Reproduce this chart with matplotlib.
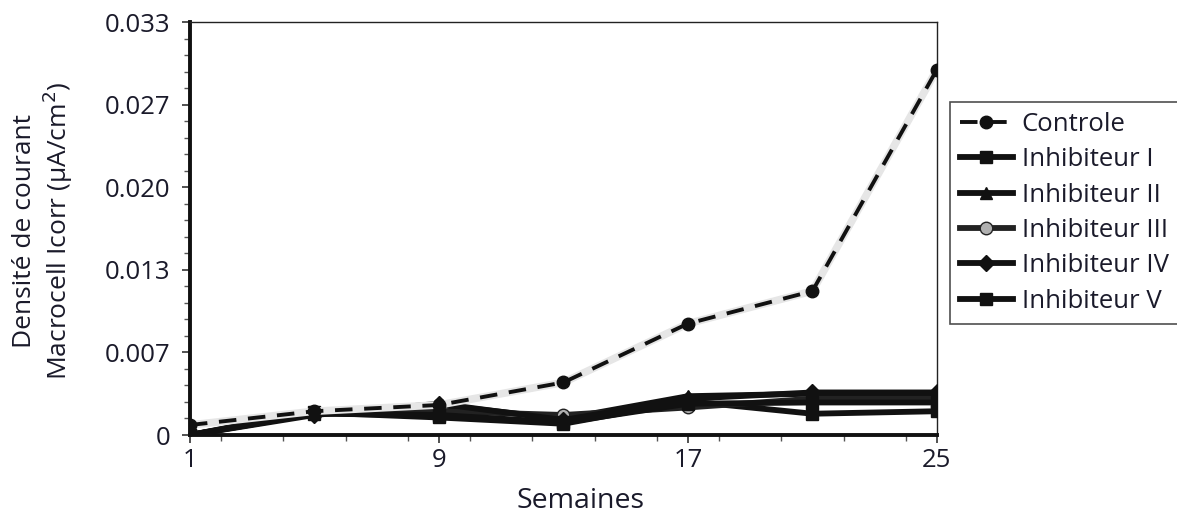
import numpy as np
import matplotlib
matplotlib.use("Agg")
import matplotlib.pyplot as plt
from matplotlib.ticker import MultipleLocator, FixedLocator

plt.rcParams['font.family'] = ['Open Sans', 'DejaVu Sans']

# Data
semaines = [1, 5, 9, 13, 17, 21, 25]
controle = [0.0008, 0.0019, 0.0024, 0.0042, 0.0089, 0.0115, 0.0292]
inhib_1 = [0.0, 0.0018, 0.0014, 0.0009, 0.0027, 0.0017, 0.0019]
inhib_2 = [0.0, 0.0019, 0.0024, 0.0013, 0.0031, 0.0033, 0.0033]
inhib_3 = [0.0, 0.0017, 0.0019, 0.0016, 0.0022, 0.0029, 0.0029]
inhib_4 = [0.0, 0.0016, 0.0025, 0.0012, 0.0029, 0.0034, 0.0034]
inhib_5 = [0.0, 0.0017, 0.0016, 0.0010, 0.0025, 0.0026, 0.0026]

y_ticks = [0, 0.0066, 0.0132, 0.0198, 0.0264, 0.033]
y_labels = ['0', '0.007', '0.013', '0.020', '0.027', '0.033']
x_ticks = [1, 9, 17, 25]

fig = plt.figure(figsize=(11.77, 5.17), dpi=100)
ax = fig.add_axes([0.1614, 0.1586, 0.6346, 0.7988])

txt = '#1a1a2a'
lw = 4.2

ax.plot(semaines, inhib_1, color='#111111', lw=lw, marker='s', ms=9, label='Inhibiteur I', zorder=3)
ax.plot(semaines, inhib_2, color='#111111', lw=lw, marker='^', ms=9, label='Inhibiteur II', zorder=3)
ax.plot(semaines, inhib_3, color='#222222', lw=lw, marker='o', ms=9, mfc='#b0b0b0', mec='#222222',
        label='Inhibiteur III', zorder=3)
ax.plot(semaines, inhib_4, color='#111111', lw=lw, marker='D', ms=8, label='Inhibiteur IV', zorder=3)
ax.plot(semaines, inhib_5, color='#111111', lw=lw, marker='s', ms=8, label='Inhibiteur V', zorder=3)
# soft grey halo under the dashed control curve
ax.plot(semaines, controle, color='#e6e6e6', lw=5.5, zorder=3.5)
ax.plot(semaines, controle, color='#111111', lw=2.8, ls=(0, (4.5, 3)), marker='o', ms=9,
        label='Controle', zorder=4)

ax.set_xlim(1, 25)
ax.set_ylim(0, 0.033)
ax.xaxis.set_major_locator(FixedLocator(x_ticks))
ax.xaxis.set_minor_locator(MultipleLocator(2))
ax.yaxis.set_major_locator(FixedLocator(y_ticks))
ax.yaxis.set_minor_locator(MultipleLocator(0.0066 / 5))
ax.set_yticklabels(y_labels)

ax.tick_params(axis='both', which='major', direction='out', length=6, width=1.2,
               labelsize=18.5, labelcolor=txt, color='#333333')
ax.tick_params(axis='both', which='minor', direction='out', length=4, width=1.0, color='#555555')
ax.tick_params(axis='y', pad=8)
ax.tick_params(axis='x', pad=3)

for s in ['left', 'bottom']:
    ax.spines[s].set_linewidth(2.8)
    ax.spines[s].set_color('#111111')
for s in ['top', 'right']:
    ax.spines[s].set_linewidth(1.0)
    ax.spines[s].set_color('#222222')

ax.set_xlabel('Semaines', fontsize=20.5, color=txt)
ax.xaxis.set_label_coords(0.523, -0.125)
ax.set_ylabel('Densité de courant\nMacrocell Icorr (μA/cm$^2$)', fontsize=19, color=txt,
              linespacing=1.12)
ax.yaxis.set_label_coords(-0.154, 0.495)

handles, labels = ax.get_legend_handles_labels()
order = [5, 0, 1, 2, 3, 4]
leg = fig.legend([handles[i] for i in order], [labels[i] for i in order],
                 loc='upper left', bbox_to_anchor=(0.807, 0.803), fontsize=18.5,
                 frameon=True, fancybox=False, edgecolor='#222222', borderaxespad=0,
                 handlelength=2.05, handletextpad=0.35, labelspacing=0.4, borderpad=0.4)
leg.get_frame().set_linewidth(1.2)
for t in leg.get_texts():
    t.set_color(txt)

fig.savefig('out.png', dpi=100)
